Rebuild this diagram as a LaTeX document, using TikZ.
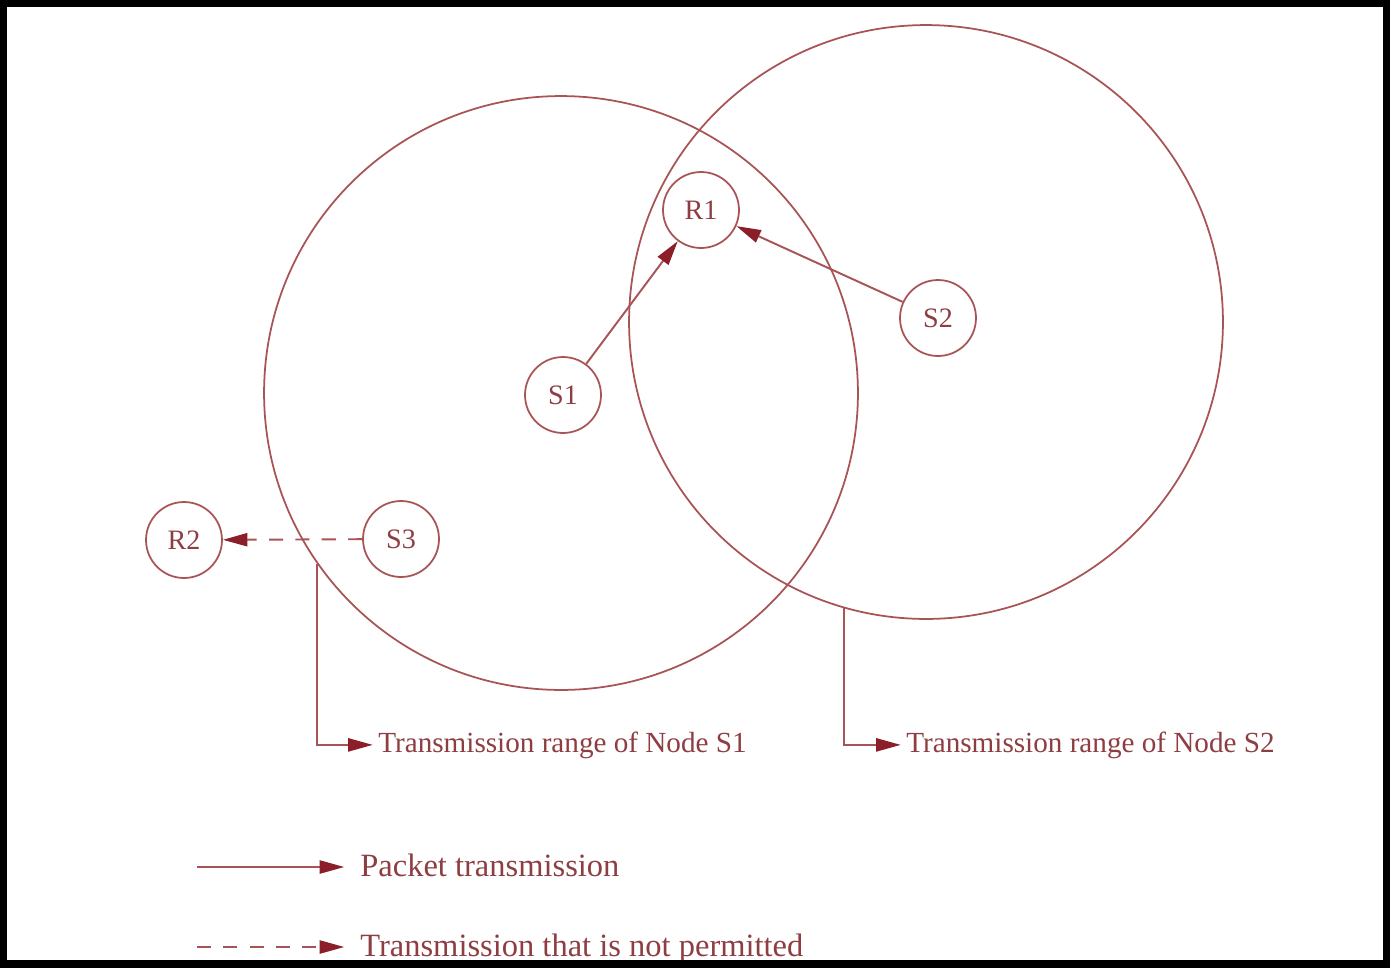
\documentclass[tikz,border=0pt]{standalone}
\usepackage{fontspec}
\setmainfont{Liberation Serif}
\usetikzlibrary{arrows.meta}
\definecolor{linec}{HTML}{A85456}
\definecolor{textc}{HTML}{8E3E42}
\definecolor{tipc}{HTML}{8B1E28}
\begin{document}
\begin{tikzpicture}[x=0.02cm,y=-0.02cm,
  station/.style={circle,draw=linec,line width=1pt,minimum size=1.52cm,inner sep=0pt,text=textc,font=\fontsize{16}{16}\selectfont},
  rangecirc/.style={circle,draw=linec,line width=1pt,minimum size=11.88cm,inner sep=0pt},
  link/.style={draw=linec,line width=1.1pt,-{Triangle[length=14pt,width=7.5pt,color=tipc]}},
  nolink/.style={link,dash pattern=on 8pt off 7pt},
  rangelabel/.style={anchor=base west,text=textc,inner sep=0pt,font=\fontsize{16.6}{16.6}\selectfont},
  legendlabel/.style={anchor=base west,text=textc,inner sep=0pt,font=\fontsize{18.5}{18.5}\selectfont}]
\useasboundingbox (0,0) rectangle (1390,968);
\fill[black] (0,0) rectangle (1390,968);
\fill[white] (7,7) rectangle (1383,960);

\node[rangecirc] (rS1) at (561,393) {};
\node[rangecirc] (rS2) at (926,322) {};

\node[station] (R1) at (701,210) {R1};
\node[station] (S1) at (563,395) {S1};
\node[station] (S2) at (938,318) {S2};
\node[station] (R2) at (184,540) {R2};
\node[station] (S3) at (401,539) {S3};

\draw[link] (S1) -- (R1);
\draw[link] (S2) -- (R1);
\draw[nolink] (S3) -- (R2);

\node[rangelabel] (L1) at (378,752) {Transmission range of Node S1};
\node[rangelabel] (L2) at (906,752) {Transmission range of Node S2};
\draw[link] (rS1.215) |- ([xshift=-3pt]L1.west);
\draw[link] (rS2.254) |- ([xshift=-3pt]L2.west);

\coordinate (lg1) at (197,867);
\coordinate (lg2) at (197,947);
\node[legendlabel] (P1) at (360,876) {Packet transmission};
\node[legendlabel] (P2) at (360,956) {Transmission that is not permitted};
\draw[link] (lg1) -- ([xshift=-9pt]lg1 -| P1.west);
\draw[nolink] (lg2) -- ([xshift=-9pt]lg2 -| P2.west);

\fill[black] (0,960) rectangle (1390,968);
\end{tikzpicture}
\end{document}
